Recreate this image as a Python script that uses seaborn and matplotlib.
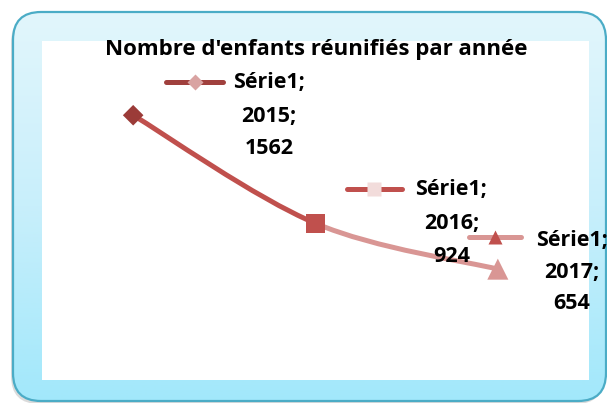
import numpy as np
import pandas as pd
import seaborn as sns
import matplotlib.pyplot as plt
from matplotlib.patches import FancyBboxPatch, PathPatch
from matplotlib.path import Path
from matplotlib.colors import LinearSegmentedColormap
from matplotlib.transforms import offset_copy, IdentityTransform

# data
titre = "Nombre d'enfants réunifiés par année"
serie = "Série1"
annees = ["2015", "2016", "2017"]
enfants = [1562, 924, 654]

# styling (Excel-like red shades)
point_colors = ["#9b3b38", "#c0504d", "#d99694"]
segment_colors = ["#c0504d", "#d99694"]
key_line_colors = ["#a0403d", "#c0504d", "#d99694"]
key_marker_colors = ["#d9a3a2", "#f2dcdb", "#c0504d"]
markers = ["D", "s", "^"]
marker_sizes = [110, 200, 230]

sns.set_theme(style="white")
plt.rcParams["font.family"] = ["Open Sans", "DejaVu Sans"]

W, H = 607, 403
fig = plt.figure(figsize=(W / 100, H / 100), dpi=100)

# rounded blue frame with gradient fill
bg = fig.add_axes([0, 0, 1, 1], zorder=0)
bg.axis("off")
shadow = FancyBboxPatch((11, 15), 593, 389, boxstyle="round,pad=0,rounding_size=28",
                        fc="#9a9a9a", ec="none", alpha=0.35)
bg.add_patch(shadow)
box = FancyBboxPatch((13, 12), 593, 389, boxstyle="round,pad=0,rounding_size=28",
                     fc="none", ec="#4bacc6", lw=1.6, zorder=3)
bg.add_patch(box)
grad_cmap = LinearSegmentedColormap.from_list("grad", ["#e2f6fc", "#c8effb", "#a2e8fb"])
im = bg.imshow(np.linspace(0, 1, 256).reshape(-1, 1), cmap=grad_cmap, aspect="auto",
               extent=(13, 606, 401, 12), zorder=2)
im.set_clip_path(box)
bg.set_xlim(0, W)
bg.set_ylim(H, 0)

# plot area
ax = fig.add_axes([42 / W, (H - 380) / H, 547 / W, 339 / H], zorder=1)
ax.set_facecolor("white")

df = pd.DataFrame({"annee": annees, "enfants": enfants})

# smoothed line (Catmull-Rom style, as Excel draws it), one colour per segment
pts = np.column_stack([np.arange(len(enfants)), enfants]).astype(float)
n = len(pts)
for i in range(n - 1):
    p_prev, p0, p1, p_next = pts[max(i - 1, 0)], pts[i], pts[i + 1], pts[min(i + 2, n - 1)]
    c1 = p0 + (p1 - p_prev) / 6
    c2 = p1 - (p_next - p0) / 6
    path = Path([p0, c1, c2, p1], [Path.MOVETO, Path.CURVE4, Path.CURVE4, Path.CURVE4])
    ax.add_patch(PathPatch(path, fc="none", ec=segment_colors[i], lw=3.6,
                           capstyle="round", zorder=2))

sns.scatterplot(data=df, x="annee", y="enfants", hue="annee",
                palette=dict(zip(annees, point_colors)),
                style="annee", markers=dict(zip(annees, markers)),
                size="annee", sizes=dict(zip(annees, marker_sizes)),
                edgecolor="none", legend=False, ax=ax, zorder=3)

ax.set_xlim(-0.5, 2.5)
ax.set_ylim(0, 2000)
ax.set_xticks([])
ax.set_yticks([])
ax.set_xlabel("")
ax.set_ylabel("")
for s in ax.spines.values():
    s.set_visible(False)


def shifted(dx, dy):
    # offset in pixels from a data point (dy downward like the picture)
    return offset_copy(ax.transData, fig=fig, x=dx, y=-dy, units="dots")


# data labels with legend keys
text_dx = [136, 136, 74]
text_dy = [[-33, 1, 33], [-34, 0, 33], [-29, 3, 34]]
key_x = [(33, 90), (31, 86), (-29, 23)]
key_dy = [-33, -34, -32]
key_marker_size = [8, 10.5, 10.5]
for i, (a, v) in enumerate(zip(annees, enfants)):
    lines = [f"{serie};", f"{a};", f"{v}"]
    for txt, dy in zip(lines, text_dy[i]):
        ax.text(i, v, txt, transform=shifted(text_dx[i], dy), ha="center", va="center",
                fontsize=15.5, fontweight="bold", color="black", clip_on=False, zorder=6)
    x0, x1 = key_x[i]
    px, py = ax.transData.transform((i, v))
    ax.add_line(plt.Line2D([px + x0, px + x1], [py - key_dy[i]] * 2,
                           color=key_line_colors[i], lw=3.6, solid_capstyle="round",
                           transform=IdentityTransform(), clip_on=False, zorder=4))
    ax.plot([i], [v], marker=markers[i], ms=key_marker_size[i], mfc=key_marker_colors[i],
            mec="none", ls="none", transform=shifted((x0 + x1) / 2, key_dy[i]),
            clip_on=False, zorder=5)

fig.text(316 / W, 1 - 50 / H, titre, ha="center", va="center",
         fontsize=16, fontweight="bold", color="black")

fig.savefig("out.png", dpi=100)
